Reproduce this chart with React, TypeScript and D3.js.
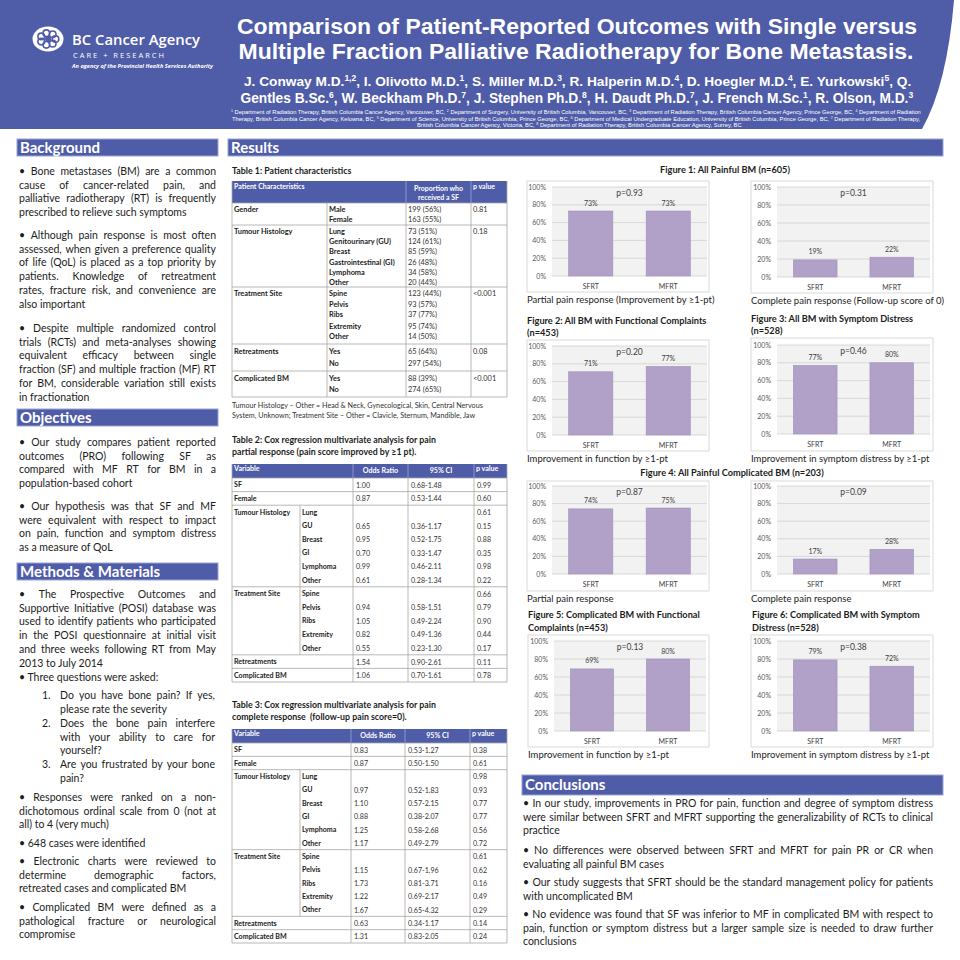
import React from 'react';
import * as d3 from 'd3';

// ---------- DATA ----------
const categories = ['SFRT', 'MFRT'];
const yTicks = [0, 20, 40, 60, 80, 100];

const fig1Partial = [73, 73];
const fig1Complete = [19, 22];
const fig2Function = [71, 77];
const fig3Distress = [77, 80];
const fig4Partial = [74, 75];
const fig4Complete = [17, 28];
const fig5Function = [69, 80];
const fig6Distress = [79, 72];
const pValues = ['p=0.93', 'p=0.31', 'p=0.20', 'p=0.46', 'p=0.87', 'p=0.09', 'p=0.13', 'p=0.38'];

const t1Groups = [
  { name: 'Gender', items: ['Male', 'Female'], values: ['199 (56%)', '163 (55%)'], p: '0.81' },
  { name: 'Tumour Histology', items: ['Lung', 'Genitourinary (GU)', 'Breast', 'Gastrointestinal (GI)', 'Lymphoma', 'Other'], values: ['73 (51%)', '124 (61%)', '85 (59%)', '26 (48%)', '34 (58%)', '20 (44%)'], p: '0.18' },
  { name: 'Treatment Site', items: ['Spine', 'Pelvis', 'Ribs', 'Extremity', 'Other'], values: ['123 (44%)', '93 (57%)', '37 (77%)', '95 (74%)', '14 (50%)'], p: '<0.001' },
  { name: 'Retreatments', items: ['Yes', 'No'], values: ['65 (64%)', '297 (54%)'], p: '0.08' },
  { name: 'Complicated BM', items: ['Yes', 'No'], values: ['88 (39%)', '274 (65%)'], p: '<0.001' },
];

const t2Rows = [
  ['SF', '', '1.00', '0.68-1.48', '0.99'],
  ['Female', '', '0.87', '0.53-1.44', '0.60'],
  ['Tumour Histology', 'Lung', '', '', '0.61'],
  ['', 'GU', '0.65', '0.36-1.17', '0.15'],
  ['', 'Breast', '0.95', '0.52-1.75', '0.88'],
  ['', 'GI', '0.70', '0.33-1.47', '0.35'],
  ['', 'Lymphoma', '0.99', '0.46-2.11', '0.98'],
  ['', 'Other', '0.61', '0.28-1.34', '0.22'],
  ['Treatment Site', 'Spine', '', '', '0.66'],
  ['', 'Pelvis', '0.94', '0.58-1.51', '0.79'],
  ['', 'Ribs', '1.05', '0.49-2.24', '0.90'],
  ['', 'Extremity', '0.82', '0.49-1.36', '0.44'],
  ['', 'Other', '0.55', '0.23-1.30', '0.17'],
  ['Retreatments', '', '1.54', '0.90-2.61', '0.11'],
  ['Complicated BM', '', '1.06', '0.70-1.61', '0.78'],
];

const t3Rows = [
  ['SF', '', '0.83', '0.53-1.27', '0.38'],
  ['Female', '', '0.87', '0.50-1.50', '0.61'],
  ['Tumour Histology', 'Lung', '', '', '0.98'],
  ['', 'GU', '0.97', '0.52-1.83', '0.93'],
  ['', 'Breast', '1.10', '0.57-2.15', '0.77'],
  ['', 'GI', '0.88', '0.38-2.07', '0.77'],
  ['', 'Lymphoma', '1.25', '0.58-2.68', '0.56'],
  ['', 'Other', '1.17', '0.49-2.79', '0.72'],
  ['Treatment Site', 'Spine', '', '', '0.61'],
  ['', 'Pelvis', '1.15', '0.67-1.96', '0.62'],
  ['', 'Ribs', '1.73', '0.81-3.71', '0.16'],
  ['', 'Extremity', '1.22', '0.69-2.17', '0.49'],
  ['', 'Other', '1.67', '0.65-4.32', '0.29'],
  ['Retreatments', '', '0.63', '0.34-1.17', '0.14'],
  ['Complicated BM', '', '1.31', '0.83-2.05', '0.24'],
];

const backgroundParas = [
  ['• Bone metastases (BM) are a common', 'cause of cancer-related pain, and', 'palliative radiotherapy (RT) is frequently', 'prescribed to relieve such symptoms'],
  ['• Although pain response is most often', 'assessed, when given a preference quality', 'of life (QoL) is placed as a top priority by', 'patients.  Knowledge of retreatment', 'rates, fracture risk, and convenience are', 'also important'],
  ['• Despite multiple randomized control', 'trials (RCTs) and meta-analyses showing', 'equivalent efficacy between single', 'fraction (SF) and multiple fraction (MF) RT', 'for BM, considerable variation still exists', 'in fractionation'],
];
const objectivesParas = [
  ['• Our study compares patient reported', 'outcomes (PRO) following SF as', 'compared with MF RT for BM in a', 'population-based cohort'],
  ['• Our hypothesis was that SF and MF', 'were equivalent with respect to impact', 'on pain, function and symptom distress', 'as a measure of QoL'],
];
const methodsParas = [
  ['• The Prospective Outcomes and', 'Supportive Initiative (POSI) database was', 'used to identify patients who participated', 'in the POSI questionnaire at initial visit', 'and three weeks following RT from May', '2013 to July 2014'],
  ['• Three questions were asked:'],
];
const questions = [
  ['Do you have bone pain? If yes,', 'please rate the severity'],
  ['Does the bone pain interfere', 'with your ability to care for', 'yourself?'],
  ['Are you frustrated by your bone', 'pain?'],
];
const methodsParas2 = [
  ['• Responses were ranked on a non-', 'dichotomous ordinal scale from 0 (not at', 'all) to 4 (very much)'],
  ['• 648 cases were identified'],
  ['• Electronic charts were reviewed to', 'determine demographic factors,', 'retreated cases and complicated BM'],
  ['• Complicated BM were defined as a', 'pathological fracture or neurological', 'compromise'],
];
const conclusionParas = [
  ['• In our study, improvements in PRO for pain, function and degree of symptom distress', 'were similar between SFRT and MFRT supporting the generalizability of RCTs to clinical', 'practice'],
  ['• No differences were observed between SFRT and MFRT for pain PR or CR when', 'evaluating all painful BM cases'],
  ['• Our study suggests that SFRT should be the standard management policy for patients', 'with uncomplicated BM'],
  ['• No evidence was found that SF was inferior to MF in complicated BM with respect to', 'pain, function or symptom distress but a larger sample size is needed to draw further', 'conclusions'],
];

const authors1 = [['J. Conway M.D.', '1,2'], [', I. Olivotto M.D.', '1'], [', S. Miller M.D.', '3'], [', R. Halperin M.D.', '4'], [', D. Hoegler M.D.', '4'], [', E. Yurkowski', '5'], [', Q.', '']];
const authors2 = [['Gentles B.Sc.', '6'], [', W. Beckham Ph.D.', '7'], [', J. Stephen Ph.D.', '8'], [', H. Daudt Ph.D.', '7'], [', J. French M.Sc.', '1'], [', R. Olson, M.D.', '3']];
const affil1 = [['', '1'], [' Department of Radiation Therapy, British Columbia Cancer Agency, Vancouver, BC, ', '2'], [' Department of Surgery, University of British Columbia, Vancouver, BC, ', '3'], [' Department of Radiation Therapy, British Columbia Cancer Agency, Prince George, BC, ', '4'], [' Department of Radiation', '']];
const affil2 = [['Therapy, British Columbia Cancer Agency, Kelowna, BC, ', '5'], [' Department of Science, University of British Columbia, Prince George, BC, ', '6'], [' Department of Medical Undergraduate Education, University of British Columbia, Prince George, BC, ', '7'], [' Department of Radiation Therapy,', '']];
const affil3 = [['British Columbia Cancer Agency, Victoria, BC, ', '8'], [' Department of Radiation Therapy, British Columbia Cancer Agency, Surrey, BC', '']];

// ---------- STYLE ----------
const BLUE = '#4f5ca8';
const BAR = '#b1a0c7';
const FONT = 'Lato';
const HFONT = '"Liberation Sans", Arial, sans-serif';
const HFONT_CANVAS = '"Liberation Sans"';
const TXT = '#1c1c1c';

let _ctx: any = null;
function textWidth(s: string, font: string) {
  if (!_ctx) _ctx = document.createElement('canvas').getContext('2d');
  _ctx.font = font;
  return _ctx.measureText(s).width;
}

function JText({ text, x, y, w, justify, size = 10.5, weight = 400, fill = TXT }: any) {
  if (!justify) {
    return <text x={x} y={y} fontSize={size} fontWeight={weight} fill={fill} fontFamily={FONT} style={{ whiteSpace: 'pre' }}>{text}</text>;
  }
  const words = text.split(/\s+/).filter(Boolean);
  const font = `${weight} ${size}px ${FONT}`;
  const ws = words.map((t: string) => textWidth(t, font));
  const total = ws.reduce((a: number, b: number) => a + b, 0);
  const gap = words.length > 1 ? (w - total) / (words.length - 1) : 0;
  const xs: number[] = [];
  let cx = x;
  ws.forEach((wd: number) => { xs.push(cx); cx += wd + gap; });
  return (
    <text y={y} fontSize={size} fontWeight={weight} fill={fill} fontFamily={FONT}>
      {words.map((t: string, i: number) => <tspan key={i} x={xs[i]}>{t}</tspan>)}
    </text>
  );
}

function Para({ lines, x, w, y, lh = 13.8, size = 10.5 }: any) {
  return (
    <g>
      {lines.map((l: string, i: number) => (
        <JText key={i} text={l} x={x} y={y + i * lh + 3.7} w={w} justify={i < lines.length - 1} size={size} />
      ))}
    </g>
  );
}

function SectionBar({ x, y, w, h, label }: any) {
  return (
    <g>
      <rect x={x} y={y} width={w} height={h} fill={BLUE} stroke="#9aa2d2" strokeWidth={1} />
      <text x={x + 3} y={y + h / 2 + 5.2} fill="#fff" fontWeight={700} fontSize={15} fontFamily={FONT}>{label}</text>
    </g>
  );
}

// Text with superscripts, font size fitted so the line spans the wanted width.
function SupText({ parts, cx, y, baseSize, width, weight = 700 }: any) {
  const ratio = 0.62;
  const natural = parts.reduce((acc: number, p: string[]) =>
    acc + textWidth(p[0], `${weight} ${baseSize}px ${HFONT_CANVAS}`) + textWidth(p[1], `${weight} ${baseSize * ratio}px ${HFONT_CANVAS}`), 0);
  const size = baseSize * width / natural;
  const sup = size * ratio;
  const shift = size * 0.32;
  const kids: any[] = [];
  parts.forEach((p: string[], i: number) => {
    if (p[0]) kids.push(<tspan key={'a' + i} dy={i > 0 && parts[i - 1][1] ? shift : 0}>{p[0]}</tspan>);
    if (p[1]) kids.push(<tspan key={'b' + i} fontSize={sup} dy={-shift}>{p[1]}</tspan>);
  });
  return (
    <text x={cx - width / 2} y={y} fontSize={size} fontWeight={weight} fontFamily={HFONT} fill="#fff" style={{ whiteSpace: 'pre' }}>
      {kids}
    </text>
  );
}

function BarChart({ values, p, frame, plot, caption }: any) {
  const [fx0, fy0, fx1, fy1] = frame;
  const [px0, py0, px1, py1] = plot;
  const x = d3.scaleBand<string>().domain(categories).range([px0, px1]).paddingInner(0.43).paddingOuter(0.215);
  const y = d3.scaleLinear().domain([0, 100]).range([py1, py0]);
  return (
    <g fontFamily={FONT}>
      <rect x={fx0} y={fy0} width={fx1 - fx0} height={fy1 - fy0} fill="#fff" stroke="#d9d9d9" strokeWidth={1} />
      <rect x={px0} y={py0} width={px1 - px0} height={py1 - py0} fill="#f2f2f2" />
      {yTicks.map((t) => (
        <g key={t}>
          <line x1={px0} x2={px1} y1={y(t)} y2={y(t)} stroke="#d0d0d0" strokeWidth={0.8} />
          <text x={px0 - 6} y={y(t) + 2.5} textAnchor="end" fontSize={7} fill="#595959">{t}%</text>
        </g>
      ))}
      {categories.map((c, i) => {
        const bx = x(c) as number;
        return (
          <g key={c}>
            <rect x={bx} y={y(values[i])} width={x.bandwidth()} height={y(0) - y(values[i])} fill={BAR} stroke="#a08fba" strokeWidth={0.6} />
            <text x={bx + x.bandwidth() / 2} y={y(values[i]) - 5.5} textAnchor="middle" fontSize={7} fill="#404040">{values[i]}%</text>
            <text x={bx + x.bandwidth() / 2} y={py1 + 12.5} textAnchor="middle" fontSize={7} fill="#404040">{c}</text>
          </g>
        );
      })}
      <text x={(px0 + px1) / 2} y={py0 + 9} textAnchor="middle" fontSize={8.5} fill="#404040">{p}</text>
      <text x={fx0} y={fy1 + 11} fontSize={9.5} fill={TXT}>{caption}</text>
    </g>
  );
}

const LINE = '#a6a6a6';

function Table1() {
  const cols = [232, 327, 406, 471, 507];
  const bounds = [203, 225, 287, 344, 371, 397];
  const rowsY = [[209, 219], [231, 241, 251, 262, 272, 282], [293, 304, 314, 326, 336], [351, 363], [378, 389]];
  return (
    <g fontFamily={FONT} fontSize={7.4}>
      <text x={232} y={174} fontSize={8.8} fontWeight={700} fill={TXT}>Table 1: Patient characteristics</text>
      <rect x={cols[0]} y={181} width={cols[4] - cols[0]} height={22} fill={BLUE} />
      <line x1={cols[2]} x2={cols[2]} y1={181} y2={203} stroke="#8c95c9" />
      <line x1={cols[3]} x2={cols[3]} y1={181} y2={203} stroke="#8c95c9" />
      <text x={234} y={188.5} fill="#fff" fontWeight={700} fontSize={7}>Patient Characteristics</text>
      <text x={(cols[2] + cols[3]) / 2} y={190.5} fill="#fff" fontWeight={700} fontSize={7} textAnchor="middle">Proportion who</text>
      <text x={(cols[2] + cols[3]) / 2} y={199.5} fill="#fff" fontWeight={700} fontSize={7} textAnchor="middle">received a SF</text>
      <text x={473} y={188.5} fill="#fff" fontWeight={700} fontSize={7}>p value</text>
      {bounds.map((b, i) => <line key={i} x1={cols[0]} x2={cols[4]} y1={b} y2={b} stroke={LINE} strokeWidth={0.8} />)}
      {cols.map((c, i) => <line key={i} x1={c} x2={c} y1={i === 0 || i === 4 ? 181 : 203} y2={397} stroke={LINE} strokeWidth={0.8} />)}
      {t1Groups.map((g, gi) => (
        <g key={g.name}>
          <text x={234} y={rowsY[gi][0] + 2.5} fontWeight={700} fill={TXT}>{g.name}</text>
          <text x={473} y={rowsY[gi][0] + 2.5} fill="#333">{g.p}</text>
          {g.items.map((it, j) => (
            <g key={j}>
              <text x={329} y={rowsY[gi][j] + 2.5} fontWeight={700} fill={TXT}>{it}</text>
              <text x={408} y={rowsY[gi][j] + 3} fill="#333">{g.values[j]}</text>
            </g>
          ))}
        </g>
      ))}
      <text x={232} y={407.5} fontSize={7.2} fill="#333">Tumour Histology – Other = Head &amp; Neck, Gynecological, Skin, Central Nervous</text>
      <text x={232} y={417.5} fontSize={7.2} fill="#333">System, Unknown; Treatment Site – Other = Clavicle, Sternum, Mandible, Jaw</text>
    </g>
  );
}

function CoxTable({ rows, cols, headTop, bodyBottom, title }: any) {
  const headBottom = headTop + 14;
  const rh = (bodyBottom - headBottom) / rows.length;
  const groupStarts: number[] = [];
  rows.forEach((r: string[], i: number) => { if (r[0]) groupStarts.push(i); });
  const groups = groupStarts.map((s, k) => [s, k + 1 < groupStarts.length ? groupStarts[k + 1] : rows.length]);
  return (
    <g fontFamily={FONT} fontSize={7.1}>
      <text x={232} y={headTop - 21} fontSize={8.8} fontWeight={700} fill={TXT}>{title[0]}</text>
      <text x={232} y={headTop - 9.5} fontSize={8.8} fontWeight={700} fill={TXT} style={{ whiteSpace: 'pre' }}>{title[1]}</text>
      <rect x={cols[0]} y={headTop} width={cols[5] - cols[0]} height={14} fill={BLUE} />
      {[2, 3, 4].map((k) => <line key={k} x1={cols[k]} x2={cols[k]} y1={headTop} y2={headBottom} stroke="#8c95c9" />)}
      <text x={234} y={headTop + 6.5} fill="#fff" fontWeight={700}>Variable</text>
      <text x={(cols[2] + cols[3]) / 2} y={headTop + 9} fill="#fff" fontWeight={700} textAnchor="middle">Odds Ratio</text>
      <text x={(cols[3] + cols[4]) / 2} y={headTop + 9} fill="#fff" fontWeight={700} textAnchor="middle">95% CI</text>
      <text x={cols[4] + 2} y={headTop + 6.5} fill="#fff" fontWeight={700}>p value</text>
      {groups.map(([s, e]: number[], k: number) => (
        <g key={k}>
          <line x1={cols[0]} x2={cols[5]} y1={headBottom + s * rh} y2={headBottom + s * rh} stroke={LINE} strokeWidth={0.8} />
          {e - s > 1 && <line x1={cols[1]} x2={cols[1]} y1={headBottom + s * rh} y2={headBottom + e * rh} stroke={LINE} strokeWidth={0.8} />}
        </g>
      ))}
      <line x1={cols[0]} x2={cols[5]} y1={bodyBottom} y2={bodyBottom} stroke={LINE} strokeWidth={0.8} />
      {[0, 2, 3, 4, 5].map((k) => <line key={k} x1={cols[k]} x2={cols[k]} y1={k === 0 || k === 5 ? headTop : headBottom} y2={bodyBottom} stroke={LINE} strokeWidth={0.8} />)}
      {rows.map((r: string[], i: number) => {
        const yb = headBottom + i * rh + 9.3;
        return (
          <g key={i}>
            {r[0] && <text x={234} y={yb} fontWeight={700} fill={TXT}>{r[0]}</text>}
            {r[1] && <text x={cols[1] + 2} y={yb} fontWeight={700} fill={TXT}>{r[1]}</text>}
            <text x={cols[2] + 3} y={yb + 0.5} fill="#333">{r[2]}</text>
            <text x={cols[3] + 3} y={yb + 0.5} fill="#333">{r[3]}</text>
            <text x={cols[4] + 3} y={yb + 0.5} fill="#333">{r[4]}</text>
          </g>
        );
      })}
    </g>
  );
}

function Logo() {
  const petals = d3.range(7).map((i) => (i / 7) * Math.PI * 2);
  return (
    <g>
      <ellipse cx={48} cy={39} rx={15.5} ry={12.5} fill="#fff" />
      {petals.map((a, i) => (
        <circle key={i} cx={48 + Math.cos(a) * 7.5} cy={39 + Math.sin(a) * 6} r={3.3} fill="none" stroke={BLUE} strokeWidth={1.6} />
      ))}
      <circle cx={48} cy={39} r={3} fill={BLUE} />
      <text x={72} y={45} fontFamily='"Open Sans", sans-serif' fontWeight={600} fontSize={15} fill="#fff" textLength={128} lengthAdjust="spacingAndGlyphs">BC Cancer Agency</text>
      <text x={73} y={57.5} fontFamily='"Open Sans", sans-serif' fontWeight={400} fontSize={7.5} fill="#fff" textLength={91} lengthAdjust="spacing">CARE + RESEARCH</text>
      <text x={72} y={68} fontFamily='"Open Sans", sans-serif' fontWeight={700} fontStyle="italic" fontSize={5} fill="#fff" textLength={141} lengthAdjust="spacingAndGlyphs">An agency of the Provincial Health Services Authority</text>
    </g>
  );
}

export default function App() {
  return (
    <svg width={960} height={960} viewBox="0 0 960 960" style={{ position: 'absolute', left: 0, top: 0, background: '#fff' }}>
      <rect x={0} y={0} width={960} height={960} fill="#fff" />
      {/* header */}
      <path d="M0,0 H954 Q947,85 922,129 H0 Z" fill={BLUE} />
      <Logo />
      <text x={577} y={34} textAnchor="middle" fontFamily={HFONT} fontWeight={700} fontSize={21.5} fill="#fff" textLength={680} lengthAdjust="spacingAndGlyphs">Comparison of Patient-Reported Outcomes with Single versus</text>
      <text x={576} y={59} textAnchor="middle" fontFamily={HFONT} fontWeight={700} fontSize={21.5} fill="#fff" textLength={675} lengthAdjust="spacingAndGlyphs">Multiple Fraction Palliative Radiotherapy for Bone Metastasis.</text>
      <SupText parts={authors1} cx={578} y={85.5} baseSize={14} width={668} />
      <SupText parts={authors2} cx={577} y={102.5} baseSize={14} width={673} />
      <SupText parts={affil1} cx={577} y={113.5} baseSize={5.5} width={692} weight={400} />
      <SupText parts={affil2} cx={577} y={120.5} baseSize={5.5} width={690} weight={400} />
      <SupText parts={affil3} cx={580} y={127} baseSize={5.5} width={326} weight={400} />

      {/* left column */}
      <SectionBar x={17} y={139} w={201} h={17} label="Background" />
      <Para lines={backgroundParas[0]} x={19} w={197} y={171} />
      <Para lines={backgroundParas[1]} x={19} w={197} y={235} />
      <Para lines={backgroundParas[2]} x={19} w={197} y={328} />
      <SectionBar x={17} y={409} w={201} h={17} label="Objectives" />
      <Para lines={objectivesParas[0]} x={19} w={197} y={442} />
      <Para lines={objectivesParas[1]} x={19} w={197} y={506} />
      <SectionBar x={17} y={563} w={201} h={17} label="Methods & Materials" />
      <Para lines={methodsParas[0]} x={19} w={197} y={594} />
      <Para lines={methodsParas[1]} x={19} w={197} y={677} />
      {questions.map((q, i) => {
        const starts = [695, 723, 764];
        return (
          <g key={i}>
            <text x={42} y={starts[i] + 3.7} fontSize={10.5} fontFamily={FONT} fill={TXT}>{i + 1}.</text>
            <Para lines={q} x={60} w={155} y={starts[i]} />
          </g>
        );
      })}
      <Para lines={methodsParas2[0]} x={19} w={197} y={797} />
      <Para lines={methodsParas2[1]} x={19} w={197} y={843} />
      <Para lines={methodsParas2[2]} x={19} w={197} y={861} />
      <Para lines={methodsParas2[3]} x={19} w={197} y={907} />

      {/* results */}
      <SectionBar x={228} y={139} w={715} h={17} label="Results" />
      <Table1 />
      <CoxTable rows={t2Rows} cols={[232, 300, 353, 408, 474, 507]} headTop={464} bodyBottom={682}
        title={['Table 2: Cox regression multivariate analysis for pain', 'partial response (pain score improved by ≥1 pt).']} />
      <CoxTable rows={t3Rows} cols={[232, 300, 351, 405, 470, 507]} headTop={729} bodyBottom={943}
        title={['Table 3: Cox regression multivariate analysis for pain', 'complete response  (follow-up pain score=0).']} />

      {/* figures */}
      <g fontFamily={FONT} fontWeight={700} fontSize={9.2} fill={TXT}>
        <text x={725} y={173} textAnchor="middle">Figure 1: All Painful BM (n=605)</text>
        <text x={527} y={324}>Figure 2: All BM with Functional Complaints</text>
        <text x={527} y={336}>(n=453)</text>
        <text x={751} y={322}>Figure 3: All BM with Symptom Distress</text>
        <text x={751} y={334}>(n=528)</text>
        <text x={732} y={476} textAnchor="middle">Figure 4: All Painful Complicated BM (n=203)</text>
        <text x={528} y={618}>Figure 5: Complicated BM with Functional</text>
        <text x={528} y={631}>Complaints (n=453)</text>
        <text x={752} y={618}>Figure 6: Complicated BM with Symptom</text>
        <text x={752} y={631}>Distress (n=528)</text>
      </g>
      <BarChart values={fig1Partial} p={pValues[0]} frame={[527, 181, 709, 292]} plot={[552, 187, 707, 276]} caption="Partial pain response (Improvement by ≥1-pt)" />
      <BarChart values={fig1Complete} p={pValues[1]} frame={[751, 181, 933, 293]} plot={[777, 187, 930, 277]} caption="Complete pain response (Follow-up score of 0)" />
      <BarChart values={fig2Function} p={pValues[2]} frame={[527, 340, 709, 451]} plot={[552, 346, 707, 435]} caption="Improvement in function by ≥1-pt" />
      <BarChart values={fig3Distress} p={pValues[3]} frame={[751, 338, 933, 451]} plot={[777, 345, 930, 434]} caption="Improvement in symptom distress by ≥1-pt" />
      <BarChart values={fig4Partial} p={pValues[4]} frame={[527, 481, 709, 591]} plot={[552, 486, 707, 574]} caption="Partial pain response" />
      <BarChart values={fig4Complete} p={pValues[5]} frame={[751, 481, 933, 591]} plot={[777, 486, 930, 574]} caption="Complete pain response" />
      <BarChart values={fig5Function} p={pValues[6]} frame={[528, 635, 709, 747]} plot={[554, 641, 706, 731]} caption="Improvement in function by ≥1-pt" />
      <BarChart values={fig6Distress} p={pValues[7]} frame={[751, 635, 933, 747]} plot={[777, 641, 930, 731]} caption="Improvement in symptom distress by ≥1-pt" />

      {/* conclusions */}
      <SectionBar x={522} y={775} w={421} h={20} label="Conclusions" />
      <Para lines={conclusionParas[0]} x={523} w={410} y={803} />
      <Para lines={conclusionParas[1]} x={523} w={410} y={850} />
      <Para lines={conclusionParas[2]} x={523} w={410} y={882} />
      <Para lines={conclusionParas[3]} x={523} w={410} y={914} />
    </svg>
  );
}
